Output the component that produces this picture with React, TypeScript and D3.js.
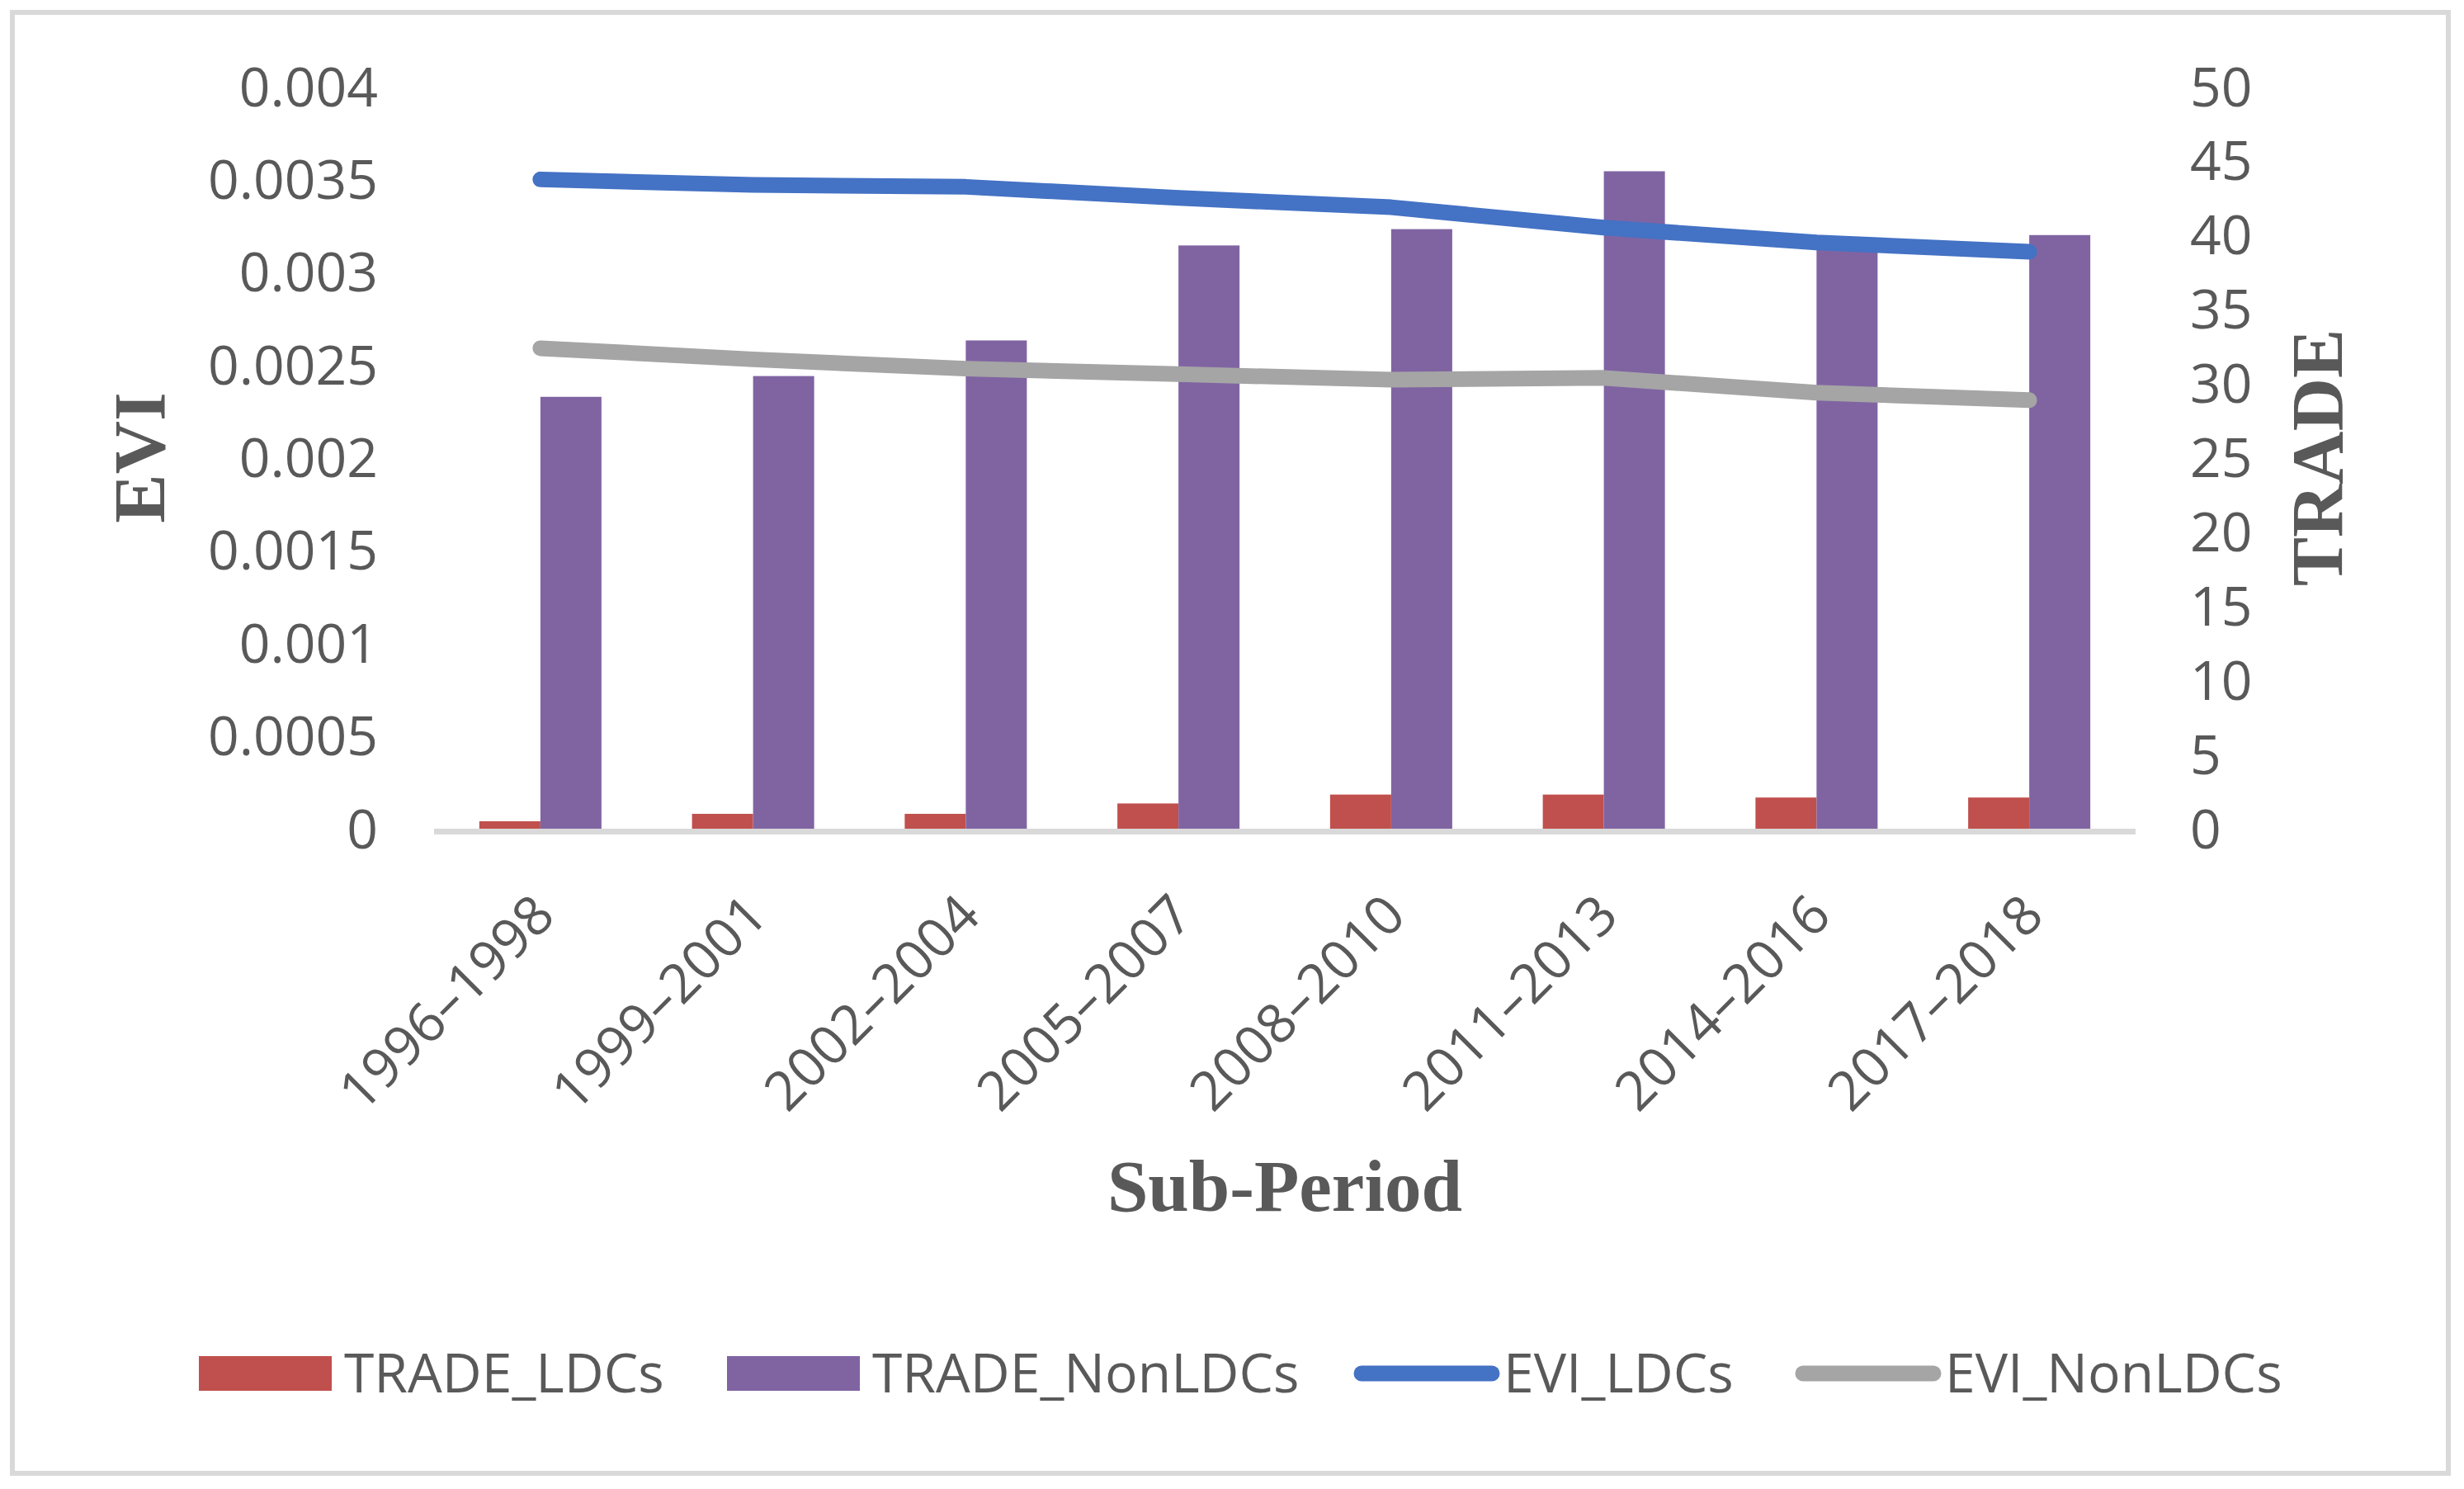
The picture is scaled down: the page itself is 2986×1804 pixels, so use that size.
import { useEffect, useRef } from 'react'
import * as d3 from 'd3'

const periods = ['1996–1998', '1999–2001', '2002–2004', '2005–2007', '2008–2010', '2011–2013', '2014–2016', '2017–2018']
const tradeLDCs = [0.5, 1.0, 1.0, 1.7, 2.3, 2.3, 2.1, 2.1]
const tradeNonLDCs = [29.1, 30.5, 32.9, 39.3, 40.4, 44.3, 39.5, 40.0]
const eviLDCs = [0.0035, 0.00347, 0.00346, 0.0034, 0.00335, 0.00324, 0.00316, 0.00311]
const eviNonLDCs = [0.00259, 0.00253, 0.00248, 0.00245, 0.00242, 0.00243, 0.00235, 0.00231]
const legendNames = ['TRADE_LDCs', 'TRADE_NonLDCs', 'EVI_LDCs', 'EVI_NonLDCs']

const RED = '#C0504D'
const PURPLE = '#8064A2'
const BLUE = '#4472C4'
const GRAY = '#A5A5A5'
const TEXT = '#595959'
const SANS = '"Open Sans", "Noto Sans", sans-serif'
const SERIF = '"Liberation Serif", "DejaVu Serif", serif'
const FS = 66

export default function App() {
  const svgRef = useRef<SVGSVGElement>(null)

  useEffect(() => {
    if (!svgRef.current) return
    const width = 2986
    const height = 1804
    const svg = d3.select(svgRef.current)
    svg.selectAll('*').remove()
    svg.attr('width', width).attr('height', height)

    svg.append('rect').attr('width', width).attr('height', height).attr('fill', '#fff')
    // chart border
    svg.append('rect')
      .attr('x', 15).attr('y', 15).attr('width', 2952).attr('height', 1770)
      .attr('fill', 'none').attr('stroke', '#d9d9d9').attr('stroke-width', 6)

    const left = 526
    const right = 2588
    const top = 105
    const bottom = 1004

    const x = d3.scaleBand<string>().domain(periods).range([left, right]).padding(0)
    const bw = x.bandwidth()
    const barW = 74
    const inner = d3.scaleBand<string>().domain(['ldc', 'non']).range([bw / 2 - barW, bw / 2 + barW])
    const yL = d3.scaleLinear().domain([0, 0.004]).range([bottom, top])
    const yR = d3.scaleLinear().domain([0, 50]).range([bottom, top])
    const cx = (p: string) => (x(p) as number) + bw / 2

    // category axis line
    svg.append('line')
      .attr('x1', left).attr('x2', right).attr('y1', bottom + 3.5).attr('y2', bottom + 3.5)
      .attr('stroke', '#d9d9d9').attr('stroke-width', 7)

    // bars
    const bars = svg.append('g')
    bars.selectAll('rect.ldc').data(periods).enter().append('rect')
      .attr('x', (d) => (x(d) as number) + (inner('ldc') as number))
      .attr('width', inner.bandwidth())
      .attr('y', (_, i) => yR(tradeLDCs[i]))
      .attr('height', (_, i) => bottom - yR(tradeLDCs[i]))
      .attr('fill', RED)
    bars.selectAll('rect.non').data(periods).enter().append('rect')
      .attr('x', (d) => (x(d) as number) + (inner('non') as number))
      .attr('width', inner.bandwidth())
      .attr('y', (_, i) => yR(tradeNonLDCs[i]))
      .attr('height', (_, i) => bottom - yR(tradeNonLDCs[i]))
      .attr('fill', PURPLE)

    // lines
    const line = d3.line<number>().x((_, i) => cx(periods[i])).y((d) => yL(d))
    ;[
      { data: eviLDCs, color: BLUE },
      { data: eviNonLDCs, color: GRAY },
    ].forEach((s) => {
      svg.append('path')
        .attr('d', line(s.data) as string)
        .attr('fill', 'none').attr('stroke', s.color).attr('stroke-width', 19)
        .attr('stroke-linecap', 'round').attr('stroke-linejoin', 'round')
    })

    // left axis labels
    svg.append('g').selectAll('text').data(yL.ticks(8)).enter().append('text')
      .attr('x', 458).attr('y', (d) => yL(d)).attr('dy', '0.357em')
      .attr('text-anchor', 'end').attr('font-family', SANS).attr('font-size', FS).attr('fill', TEXT)
      .text((d) => String(+d.toFixed(4)))

    // right axis labels
    svg.append('g').selectAll('text').data(yR.ticks(10)).enter().append('text')
      .attr('x', 2654).attr('y', (d) => yR(d)).attr('dy', '0.357em')
      .attr('text-anchor', 'start').attr('font-family', SANS).attr('font-size', FS).attr('fill', TEXT)
      .text((d) => String(d))

    // category labels
    svg.append('g').selectAll('text').data(periods).enter().append('text')
      .attr('transform', (d) => `translate(${cx(d) + 4},1096) rotate(-45)`)
      .attr('dy', '0.357em')
      .attr('text-anchor', 'end').attr('font-family', SANS).attr('font-size', FS).attr('fill', TEXT)
      .text((d) => d)

    // axis titles
    svg.append('text')
      .attr('transform', `translate(199,${(top + bottom) / 2}) rotate(-90)`)
      .attr('text-anchor', 'middle').attr('font-family', SERIF).attr('font-weight', 700)
      .attr('font-size', 89).attr('fill', TEXT).text('EVI')
    svg.append('text')
      .attr('transform', `translate(2838,${(top + bottom) / 2}) rotate(-90)`)
      .attr('text-anchor', 'middle').attr('font-family', SERIF).attr('font-weight', 700)
      .attr('font-size', 89).attr('fill', TEXT).text('TRADE')
    svg.append('text')
      .attr('x', 1557).attr('y', 1467)
      .attr('text-anchor', 'middle').attr('font-family', SERIF).attr('font-weight', 700)
      .attr('font-size', 89).attr('fill', TEXT).text('Sub-Period')

    // legend
    const legendX = [241, 881, 1640, 2175]
    const legendColors = [RED, PURPLE, BLUE, GRAY]
    const legY = 1664
    legendNames.forEach((name, i) => {
      const g = svg.append('g').attr('transform', `translate(${legendX[i]},0)`)
      if (i < 2) {
        g.append('rect').attr('x', 0).attr('y', legY - 21).attr('width', 161).attr('height', 42)
          .attr('fill', legendColors[i])
      } else {
        g.append('line').attr('x1', 10).attr('x2', 168).attr('y1', legY).attr('y2', legY)
          .attr('stroke', legendColors[i]).attr('stroke-width', 19).attr('stroke-linecap', 'round')
      }
      g.append('text')
        .attr('x', i < 2 ? 176 : 182).attr('y', 1687)
        .attr('font-family', SANS).attr('font-size', FS).attr('fill', TEXT)
        .text(name)
    })
  }, [])

  return (
    <div style={{ position: 'absolute', left: 0, top: 0, width: 2986, height: 1804, background: '#fff' }}>
      <svg ref={svgRef} style={{ display: 'block' }}></svg>
    </div>
  )
}
